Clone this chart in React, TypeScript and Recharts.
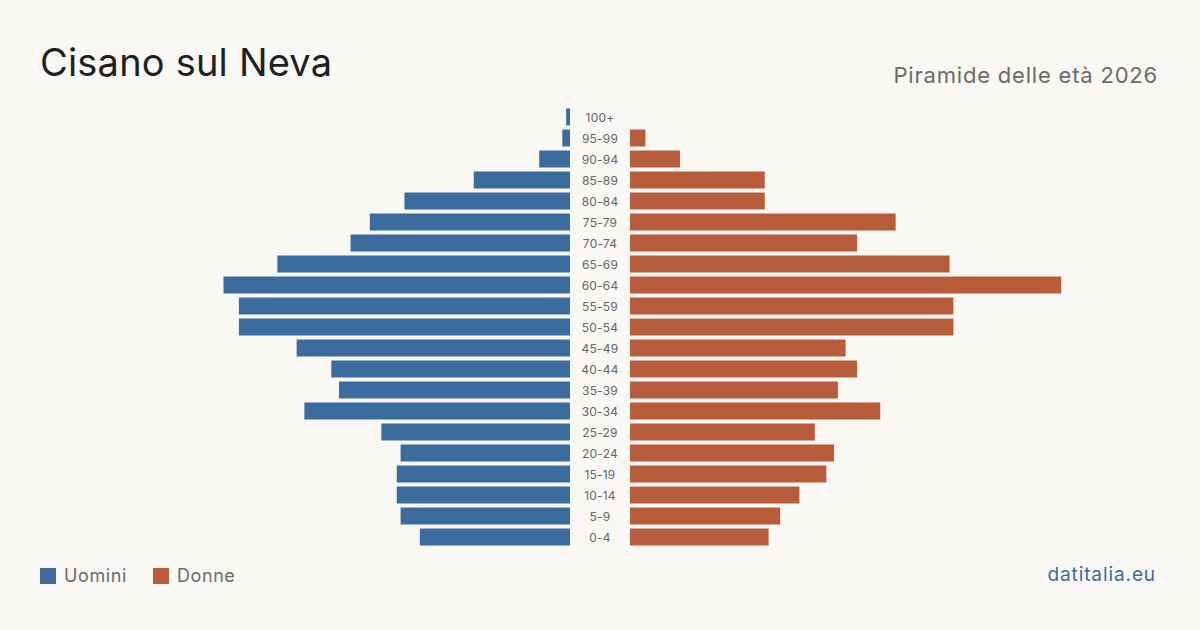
import { Bar, BarChart, XAxis, YAxis } from 'recharts';

const ageGroups = ['100+', '95-99', '90-94', '85-89', '80-84', '75-79', '70-74', '65-69', '60-64', '55-59', '50-54', '45-49', '40-44', '35-39', '30-34', '25-29', '20-24', '15-19', '10-14', '5-9', '0-4'];
const males = [1, 2, 8, 25, 43, 52, 57, 76, 90, 86, 86, 71, 62, 60, 69, 49, 44, 45, 45, 44, 39];
const females = [0, 4, 13, 35, 35, 69, 59, 83, 112, 84, 84, 56, 59, 54, 65, 48, 53, 51, 44, 39, 36];

const BLUE = '#3c6b9d';
const ORANGE = '#b85d3c';
const BG = '#f9f8f4';
const FONT = 'Inter, "Noto Sans", sans-serif';

const data = ageGroups.map((age, i) => ({ age, m: males[i], f: females[i] }));

const AgeTick = (props: any) => {
  const { y, payload } = props;
  return (
    <text x={30} y={y} dy={4.5} textAnchor="middle" fontSize={12} fill="#666" fontFamily={FONT} letterSpacing={0.2}>
      {payload.value}
    </text>
  );
};

export default function App() {
  return (
    <div style={{ position: 'absolute', left: 0, top: 0, width: 1200, height: 630, background: BG, fontFamily: FONT, overflow: 'hidden' }}>
      <div style={{ position: 'absolute', left: 40, top: 43, fontSize: 38, color: '#1f1f1f', lineHeight: 1, letterSpacing: 0.2 }}>Cisano sul Neva</div>
      <div style={{ position: 'absolute', right: 42, top: 64, fontSize: 22, color: '#6b6b6b', lineHeight: 1, letterSpacing: 0.8 }}>Piramide delle età 2026</div>

      {/* Uomini */}
      <div style={{ position: 'absolute', left: 0, top: 0 }}>
        <BarChart width={570} height={630} data={data} layout="vertical" margin={{ top: 106.5, bottom: 82.5, left: 185, right: 0 }}>
          <XAxis type="number" domain={[0, 100]} reversed hide />
          <YAxis type="category" dataKey="age" hide />
          <Bar dataKey="m" fill={BLUE} barSize={17} isAnimationActive={false} />
        </BarChart>
      </div>

      {/* Donne */}
      <div style={{ position: 'absolute', left: 570, top: 0 }}>
        <BarChart width={630} height={630} data={data} layout="vertical" margin={{ top: 106.5, bottom: 82.5, left: 0, right: 108 }}>
          <XAxis type="number" domain={[0, 120]} hide />
          <YAxis type="category" dataKey="age" width={60} axisLine={false} tickLine={false} tick={<AgeTick />} interval={0} />
          <Bar dataKey="f" fill={ORANGE} barSize={17} isAnimationActive={false} />
        </BarChart>
      </div>

      {/* legenda */}
      <div style={{ position: 'absolute', left: 40, top: 566, display: 'flex', alignItems: 'center', fontSize: 18, color: '#6b6b6b', lineHeight: '20px', letterSpacing: 0.6 }}>
        <span style={{ width: 16, height: 16, background: BLUE, display: 'inline-block', marginRight: 8 }} />
        <span style={{ marginRight: 26 }}>Uomini</span>
        <span style={{ width: 16, height: 16, background: ORANGE, display: 'inline-block', marginRight: 8 }} />
        <span>Donne</span>
      </div>
      <div style={{ position: 'absolute', right: 44, top: 565, fontSize: 19, color: '#3c6b9d', lineHeight: 1, letterSpacing: 0.9 }}>datitalia.eu</div>
    </div>
  );
}
